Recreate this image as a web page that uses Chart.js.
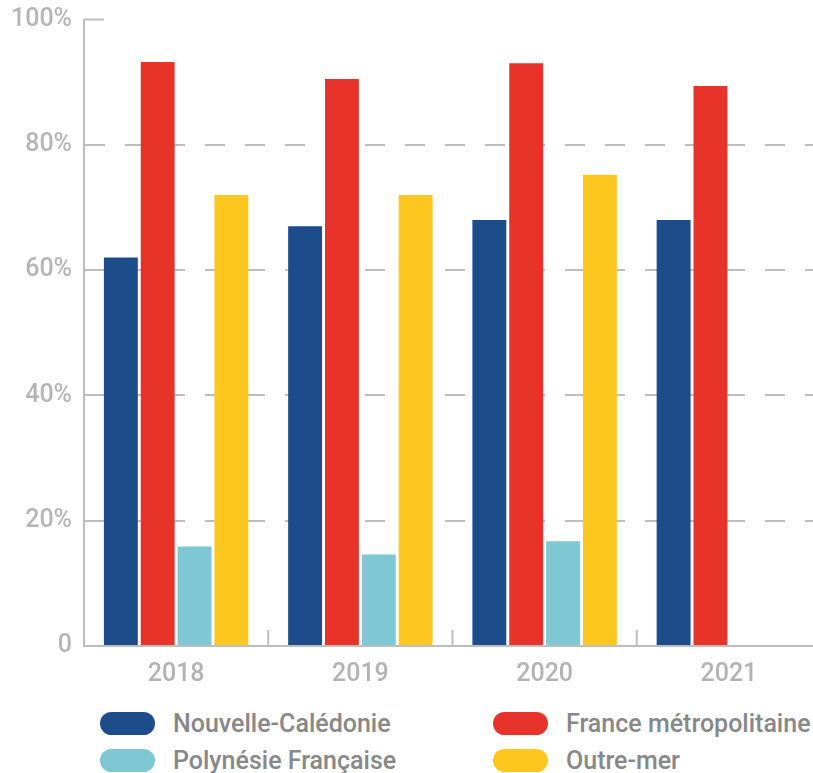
<!DOCTYPE html>
<html lang="fr">
<head>
<meta charset="utf-8">
<title>Taux par territoire</title>
<script src="https://cdn.jsdelivr.net/npm/chart.js@4/dist/chart.umd.min.js"></script>
<style>
    html, body { margin: 0; padding: 0; background: #fff; overflow: hidden; }
    #zone { position: relative; width: 813px; height: 773px; overflow: hidden; }
    #boite { position: absolute; left: 0; top: -5px; width: 821px; height: 709px; }
    #legende {
        position: absolute; left: 100px; top: 712px;
        display: grid; grid-template-columns: 393px auto; row-gap: 14px;
        font-family: Roboto, "Noto Sans", sans-serif; font-weight: 500;
        font-size: 25px; color: #888;
    }
    .item { display: flex; align-items: center; height: 23px; white-space: nowrap; }
    .pastille { width: 55px; height: 23px; border-radius: 12px; margin-right: 18px; flex: none; }
</style>
</head>
<body>
<div id="zone">
    <div id="boite"><canvas id="graphique"></canvas></div>
    <div id="legende"></div>
</div>
<script>
"use strict";

////////////////////////////////////////////////////// données
const annees = ["2018", "2019", "2020", "2021"];
const nouvelleCaledonie = [62, 67, 68, 68];
const franceMetropolitaine = [93.2, 90.5, 93, 89.4];
const polynesieFrancaise = [15.9, 14.6, 16.7, null];
const outreMer = [72, 72, 75.2, null];
const graduations = [0, 20, 40, 60, 80, 100];

const gris = "#bdbdbd";

////////////////////////////////////////////////////// repères de l'axe x
// petits traits entre les années + amorce de la ligne des 100%
const reperes = {
    id: "reperes",
    afterDatasetsDraw(chart) {
        const ctx = chart.ctx;
        const x = chart.scales.x;
        const y = chart.scales.y;
        const bas = y.getPixelForValue(0);
        ctx.save();
        ctx.strokeStyle = gris;
        ctx.lineWidth = 2;
        for (let i = 0; i < annees.length - 1; i++) {
            const xm = (x.getPixelForValue(i) + x.getPixelForValue(i + 1)) / 2;
            ctx.beginPath();
            ctx.moveTo(xm, bas);
            ctx.lineTo(xm, bas - 16);
            ctx.stroke();
        }
        const haut = y.getPixelForValue(100);
        ctx.beginPath();
        ctx.moveTo(chart.chartArea.left, haut);
        ctx.lineTo(chart.chartArea.left + 20, haut);
        ctx.stroke();
        ctx.restore();
    },
};

////////////////////////////////////////////////////// légende html
function pintarLegende(chart) {
    const cont = document.getElementById("legende");
    cont.innerHTML = "";
    chart.data.datasets.forEach((ds) => {
        const item = document.createElement("div");
        item.className = "item";
        const p = document.createElement("span");
        p.className = "pastille";
        p.style.background = ds.backgroundColor;
        item.appendChild(p);
        item.appendChild(document.createTextNode(ds.label));
        cont.appendChild(item);
    });
}

////////////////////////////////////////////////////// graphique
const ctx = document.getElementById("graphique").getContext("2d");
const chart = new Chart(ctx, {
    type: "bar",
    data: {
        labels: annees,
        datasets: [
            { label: "Nouvelle-Calédonie", data: nouvelleCaledonie, backgroundColor: "#1c4c89" },
            { label: "France métropolitaine", data: franceMetropolitaine, backgroundColor: "#e8332b" },
            { label: "Polynésie Française", data: polynesieFrancaise, backgroundColor: "#7dc8d2" },
            { label: "Outre-mer", data: outreMer, backgroundColor: "#fdc71f" },
        ],
    },
    options: {
        responsive: true,
        maintainAspectRatio: false,
        animation: false,
        layout: { padding: { top: 1, right: 0, left: 0, bottom: 0 } },
        datasets: { bar: { categoryPercentage: 0.8, barPercentage: 0.92 } },
        plugins: {
            legend: { display: false },
            tooltip: { enabled: false },
        },
        scales: {
            x: {
                grid: { display: false, drawTicks: false },
                border: { display: true, color: gris, width: 2 },
                ticks: {
                    padding: 14,
                    color: "#b3b3b3",
                    font: { family: "Roboto", size: 25, weight: 500 },
                },
            },
            y: {
                min: 0,
                max: 100,
                afterFit: (scale) => { scale.width = 84; },
                afterBuildTicks: (scale) => { scale.ticks = graduations.map((v) => ({ value: v })); },
                grid: {
                    drawTicks: false,
                    lineWidth: 2,
                    color: (c) => (c.tick && (c.tick.value === 0 || c.tick.value === 100) ? "rgba(0,0,0,0)" : gris),
                },
                border: { display: true, color: gris, width: 2, dash: [20, 20] },
                ticks: {
                    padding: 12,
                    color: "#b5b5b5",
                    font: { family: "Roboto", size: 25, weight: 500, lineHeight: 1 },
                    callback: (v) => (v === 0 ? "0" : v + "%"),
                },
            },
        },
    },
    plugins: [reperes],
});
pintarLegende(chart);
</script>
</body>
</html>
